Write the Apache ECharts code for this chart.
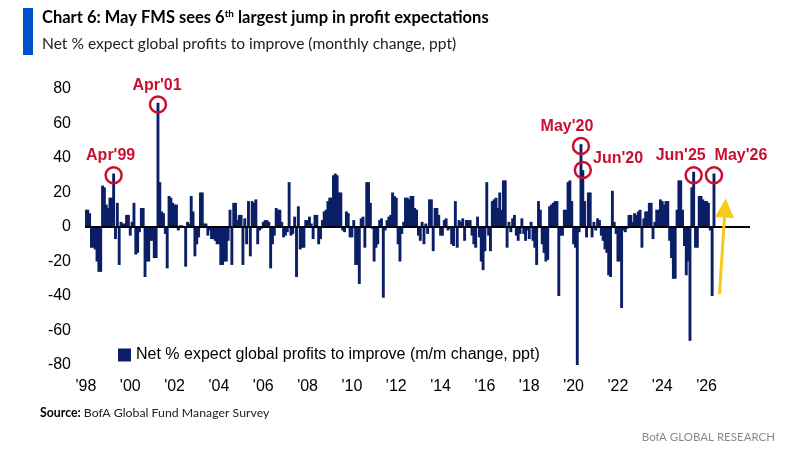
<!DOCTYPE html>
<html lang="en">
<head>
    <meta charset="UTF-8">
    <title>Chart 6: May FMS profit expectations</title>
    <script src="https://cdn.jsdelivr.net/npm/echarts@6/dist/echarts.min.js"></script>
    <style>
        html, body { margin: 0; padding: 0; background: #fff; }
        #chart { width: 789px; height: 449px; }
    </style>
</head>
<body>
<div id="chart"></div>
<script>
    // monthly change, Jan 1998 .. May 2026 (ppt)
    var startYear = 1998;
    var endYear = 2027; // axis runs to Dec 2027, data stops May 2026
    var monthlyChange = [
        10, 10, 8, -12, -12, -13, -20, -26, -26, 24,
        23, 13, 11, 17, 17, 31, -7, 14, -22, 3,
        2, 2, 7, 7, -5, 3, 14, -16, -15, -3,
        11, 11, -29, -20, -20, -8, -8, -18, -18, 72,
        26, 9, 8, -4, -24, 18, 17, 14, 13, 13,
        -2, 1, 1, 0, -23, 3, 2, 18, 9, -17,
        -10, -6, 20, 20, 2, 2, -5, -2, -7, -7,
        -8, -10, -10, -22, -22, -20, -20, -8, 10, -22,
        14, 14, 4, 7, 7, -22, 5, -10, 15, -17,
        15, 14, 16, -10, -2, -1, 3, 4, 4, 3,
        -24, -10, -5, 11, 10, 10, 3, -6, -5, -3,
        26, -5, -4, 6, -29, 12, -13, -12, -12, 4,
        4, 6, 2, -7, 7, 7, -10, -7, 4, 9,
        10, 15, 17, 17, 30, 31, 30, 20, 20, -2,
        -3, 9, 8, -6, -6, 4, -22, -22, -33, 5,
        6, -12, 26, 26, 14, -1, -20, -12, -10, 4,
        5, -41, -2, 4, 6, 7, 20, 18, 17, -10,
        -20, -4, 3, 17, 17, 16, 18, 18, 11, 10,
        -5, -8, 3, -10, 2, -4, 16, 16, -14, 11,
        11, 7, -5, -5, 4, 5, -2, -1, -10, -11,
        15, -12, 4, 3, 5, -8, 4, 4, 4, -5,
        -10, -12, 6, -6, -20, -25, -14, 26, -5, -14,
        15, 16, 17, 11, 20, 10, 27, 27, -12, 3,
        -3, 5, 7, -5, -8, -4, 5, -4, -8, -2,
        -7, 3, -8, -12, -22, 15, 10, -10, -15, -20,
        -19, 12, 13, 14, 15, 15, -40, -5, -5, 10,
        10, 26, 27, 15, -10, -12, -80, -3, 48, 33,
        15, -6, 20, 20, -6, 3, -2, 5, 4, -5,
        -8, -13, -15, -28, -29, 21, 3, -4, -20, -20,
        -47, -2, -3, -1, 7, 7, 3, 8, 7, 9,
        10, -12, 5, 9, 9, 14, 14, -7, 3, 10,
        10, 16, 15, 13, 15, 15, -8, -18, -30, -30,
        10, 27, 27, 10, -11, -28, -20, -66, 23, 32,
        -12, -12, 18, 18, 16, 15, 15, 14, -2, -40, 31
    ];
    // highlighted months: [category, circle value, label]
    var callouts = [
        ['1999-04', 30, "Apr'99"],
        ['2001-04', 71, "Apr'01"],
        ['2020-05', 47, "May'20"],
        ['2020-06', 33, "Jun'20"],
        ['2025-06', 30, "Jun'25"],
        ['2026-05', 30, "May'26"]
    ];
    var calloutOffsets = {"Apr'99": [-3, 0], "Apr'01": [-1, 0], "May'20": [-14, 0], "Jun'25": [-13, 0], "May'26": [27, 0]};
    // yellow arrow after the last bar: [category, value] start/end
    var arrowFrom = ['2026-08', -39];
    var arrowTo = ['2026-11', 11];

    var months = [];
    for (var y = startYear; y <= endYear; y++) {
        for (var m = 1; m <= 12; m++) {
            months.push(y + '-' + (m < 10 ? '0' + m : m));
        }
    }

    var navy = '#0b1f66';
    var red = '#c8102e';
    var axisFont = 'Liberation Sans';

    var markData = callouts.map(function (c) {
        var lab = {formatter: c[2]};
        if (c[2] === "Jun'20") {
            lab.position = 'right';
            lab.distance = 1;
            lab.offset = [0, -11];
        } else {
            lab.position = 'top';
            lab.distance = 2;
            lab.offset = calloutOffsets[c[2]];
        }
        return {coord: [c[0], c[1]], label: lab};
    });

    var chart = echarts.init(document.getElementById('chart'));
    var option = {
        animation: false,
        backgroundColor: '#fff',
        title: [{
            left: 42,
            top: 9,
            padding: 0,
            text: 'Chart 6: May FMS sees 6{sup|th} largest jump in profit expectations',
            textStyle: {
                fontFamily: 'Lato',
                fontSize: 16.5,
                fontWeight: 'bold',
                color: '#000',
                rich: {
                    sup: {fontFamily: 'Lato', fontSize: 10, fontWeight: 'bold', color: '#000', verticalAlign: 'top', padding: [0, 0, 8, 0]}
                }
            },
            subtext: 'Net % expect global profits to improve (monthly change, ppt)',
            subtextStyle: {fontFamily: 'Lato', fontSize: 15.6, color: '#222'},
            itemGap: 9
        }, {
            left: 40,
            top: 407,
            padding: 0,
            text: '{b|Source:} BofA Global Fund Manager Survey',
            textStyle: {
                fontFamily: 'Lato',
                fontSize: 12.3,
                fontWeight: 'normal',
                color: '#222',
                rich: {b: {fontFamily: 'Lato', fontSize: 12.3, fontWeight: 'bold', color: '#000'}}
            }
        }, {
            right: 14,
            top: 431,
            padding: 0,
            text: 'BofA GLOBAL RESEARCH',
            textStyle: {fontFamily: 'Lato', fontSize: 11.5, fontWeight: 'normal', color: '#8a8a8a'}
        }],
        graphic: [{
            type: 'rect',
            shape: {x: 23, y: 8, width: 10, height: 47},
            style: {fill: '#0052cc'}
        }],
        legend: {
            data: ['Net % expect global profits to improve (m/m change, ppt)'],
            left: 113,
            top: 342,
            icon: 'rect',
            itemWidth: 13,
            itemHeight: 13,
            itemGap: 4,
            textStyle: {fontFamily: axisFont, fontSize: 16, color: '#000'}
        },
        grid: {left: 85, right: 39, top: 89, bottom: 84},
        xAxis: {
            type: 'category',
            data: months,
            axisLine: {show: false},
            axisTick: {show: false},
            axisLabel: {
                interval: 23,
                margin: 14,
                fontFamily: axisFont,
                fontSize: 16,
                color: '#000',
                formatter: function (v) { return "'" + v.slice(2, 4); }
            }
        },
        yAxis: {
            type: 'value',
            min: -80,
            max: 80,
            interval: 20,
            axisLine: {show: false},
            axisTick: {show: false},
            splitLine: {show: false},
            axisLabel: {margin: 14, fontFamily: axisFont, fontSize: 16, color: '#000'}
        },
        series: [{
            name: 'Net % expect global profits to improve (m/m change, ppt)',
            type: 'bar',
            data: monthlyChange,
            barWidth: 2.9,
            itemStyle: {color: navy},
            markLine: {
                silent: true,
                symbol: 'none',
                label: {show: false},
                lineStyle: {color: '#000', width: 2, type: 'solid'},
                data: [{yAxis: 0}]
            },
            markPoint: {
                symbol: 'circle',
                symbolSize: 16,
                silent: true,
                itemStyle: {color: 'rgba(0,0,0,0)', borderColor: red, borderWidth: 2.5},
                label: {show: true, color: red, fontFamily: axisFont, fontSize: 16, fontWeight: 'bold'},
                data: markData
            }
        }, {
            name: 'arrow',
            type: 'line',
            data: [],
            markLine: {
                silent: true,
                symbol: ['none', 'triangle'],
                symbolSize: 19,
                label: {show: false},
                lineStyle: {color: '#f7c81e', width: 3, type: 'solid'},
                itemStyle: {color: '#f7c81e'},
                data: [[{coord: arrowFrom}, {coord: arrowTo}]]
            }
        }]
    };
    chart.setOption(option);
</script>
</body>
</html>
